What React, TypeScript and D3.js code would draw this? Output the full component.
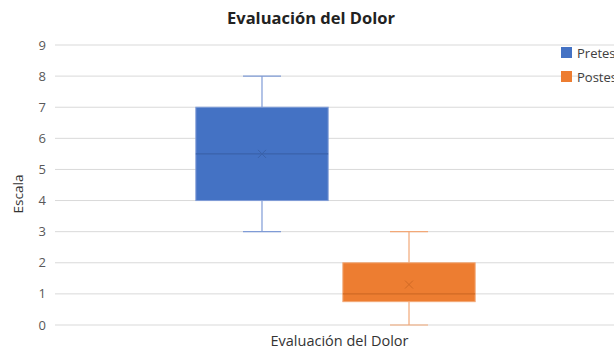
import { useEffect, useRef } from 'react';
import * as d3 from 'd3';

const title = 'Evaluación del Dolor';
const category = 'Evaluación del Dolor';
const seriesNames = ['Pretest', 'Postest'];
const seriesColors = ['#4472C4', '#ED7D31'];
const whiskerColors = ['#7F9BD6', '#F2A877'];
const medianColors = ['#3A62AA', '#D06A25'];
const mins = [3, 0];
const q1s = [4, 0.75];
const medians = [5.5, 1];
const q3s = [7, 2];
const maxs = [8, 3];
const means = [5.5, 1.3];
const yTicks = [0, 1, 2, 3, 4, 5, 6, 7, 8, 9];

const FONT = '"Open Sans", "Liberation Sans", sans-serif';

export default function App() {
  const svgRef = useRef<SVGSVGElement>(null);
  const width = 614;
  const height = 351;

  useEffect(() => {
    document.body.style.margin = '0';
    if (!svgRef.current) return;
    const svg = d3.select(svgRef.current);
    svg.selectAll('*').remove();

    const left = 55;
    const right = 616;
    const top = 45;
    const bottom = 325;

    const y = d3.scaleLinear().domain([0, 9]).range([bottom, top]);
    const x0 = d3.scaleBand().domain([category]).range([left, right]).paddingInner(0).paddingOuter(0.454);
    const x1 = d3
      .scaleBand()
      .domain(seriesNames)
      .range([x0(category)!, x0(category)! + x0.bandwidth()])
      .paddingInner(0.1)
      .paddingOuter(0.05);

    // gridlines
    svg.append('g')
      .selectAll('line')
      .data(yTicks)
      .join('line')
      .attr('x1', left)
      .attr('x2', width)
      .attr('y1', d => y(d))
      .attr('y2', d => y(d))
      .attr('stroke', '#D9D9D9')
      .attr('stroke-width', 1);

    // y tick labels
    svg.append('g')
      .selectAll('text')
      .data(yTicks)
      .join('text')
      .attr('x', 46)
      .attr('y', d => y(d))
      .attr('dy', '0.35em')
      .attr('text-anchor', 'end')
      .style('font-family', FONT)
      .style('font-size', '13px')
      .style('fill', '#595959')
      .text(d => d);

    const data = seriesNames.map((name, i) => ({
      name,
      i,
      min: mins[i],
      q1: q1s[i],
      median: medians[i],
      q3: q3s[i],
      max: maxs[i],
      mean: means[i],
    }));

    const boxes = svg.append('g').selectAll('g').data(data).join('g');
    const bw = x1.bandwidth();
    const cx = (d: { name: string }) => x1(d.name)! + bw / 2;
    const capW = 38;

    // whiskers
    boxes.append('line')
      .attr('x1', cx).attr('x2', cx)
      .attr('y1', d => y(d.max)).attr('y2', d => y(d.q3))
      .attr('stroke', d => whiskerColors[d.i]).attr('stroke-width', 1.2);
    boxes.append('line')
      .attr('x1', cx).attr('x2', cx)
      .attr('y1', d => y(d.q1)).attr('y2', d => y(d.min))
      .attr('stroke', d => whiskerColors[d.i]).attr('stroke-width', 1.2);
    boxes.append('line')
      .attr('x1', d => cx(d) - capW / 2).attr('x2', d => cx(d) + capW / 2)
      .attr('y1', d => y(d.max)).attr('y2', d => y(d.max))
      .attr('stroke', d => whiskerColors[d.i]).attr('stroke-width', 1.2);
    boxes.append('line')
      .attr('x1', d => cx(d) - capW / 2).attr('x2', d => cx(d) + capW / 2)
      .attr('y1', d => y(d.min)).attr('y2', d => y(d.min))
      .attr('stroke', d => whiskerColors[d.i]).attr('stroke-width', 1.2);

    // box
    boxes.append('rect')
      .attr('x', d => x1(d.name)!)
      .attr('width', bw)
      .attr('y', d => y(d.q3))
      .attr('height', d => y(d.q1) - y(d.q3))
      .attr('fill', d => seriesColors[d.i])
      .attr('stroke', d => whiskerColors[d.i])
      .attr('stroke-width', 1);

    // median
    boxes.append('line')
      .attr('x1', d => x1(d.name)!).attr('x2', d => x1(d.name)! + bw)
      .attr('y1', d => y(d.median)).attr('y2', d => y(d.median))
      .attr('stroke', d => medianColors[d.i]).attr('stroke-width', 1.2);

    // mean marker
    const m = 4;
    boxes.append('path')
      .attr('d', d => {
        const px = cx(d);
        const py = y(d.mean);
        return `M${px - m},${py - m}L${px + m},${py + m}M${px - m},${py + m}L${px + m},${py - m}`;
      })
      .attr('stroke', d => medianColors[d.i])
      .attr('stroke-width', 1)
      .attr('fill', 'none');

    // title
    svg.append('text')
      .attr('x', 311)
      .attr('y', 24)
      .attr('text-anchor', 'middle')
      .style('font-family', FONT)
      .style('font-size', '16.5px')
      .style('font-weight', '700')
      .style('fill', '#222')
      .text(title);

    // x label
    svg.append('text')
      .attr('x', x0(category)! + x0.bandwidth() / 2 + 4)
      .attr('y', 346)
      .attr('text-anchor', 'middle')
      .style('font-family', FONT)
      .style('font-size', '14.5px')
      .style('fill', '#333')
      .text(category);

    // y label
    svg.append('text')
      .attr('transform', `translate(23,${(top + bottom) / 2 + 9}) rotate(-90)`)
      .attr('text-anchor', 'middle')
      .style('font-family', FONT)
      .style('font-size', '13.5px')
      .style('fill', '#333')
      .text('Escala');

    // legend (clipped at the right edge, as in the source)
    const legend = svg.append('g')
      .selectAll('g')
      .data(seriesNames)
      .join('g')
      .attr('transform', (_d, i) => `translate(561,${47 + i * 24})`);
    legend.append('rect')
      .attr('width', 11).attr('height', 11)
      .attr('fill', (_d, i) => seriesColors[i]);
    legend.append('text')
      .attr('x', 16)
      .attr('y', 6)
      .attr('dy', '0.35em')
      .style('font-family', FONT)
      .style('font-size', '13px')
      .style('fill', '#404040')
      .text(d => d);
  }, []);

  return (
    <svg
      ref={svgRef}
      width={width}
      height={height}
      style={{ position: 'absolute', left: 0, top: 0, background: '#fff' }}
    />
  );
}
